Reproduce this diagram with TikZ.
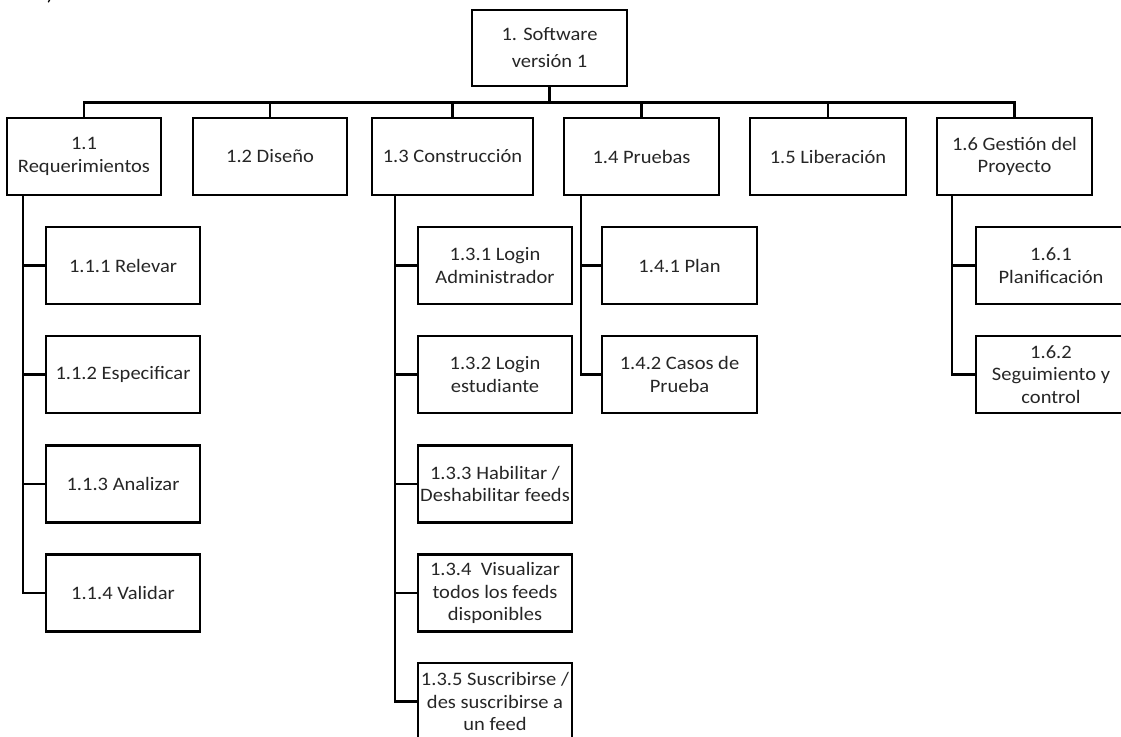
\documentclass[tikz,border=0pt]{standalone}
\usepackage{fontspec}
\setmainfont{Carlito}[FakeStretch=1.08]
\begin{document}
\begin{tikzpicture}[x=1pt,y=-1pt,
  wbs/.style={draw=black, line width=2.6pt, inner sep=0pt, outer sep=0pt,
    minimum width=154pt, minimum height=77pt, align=center,
    font=\fontsize{19}{22.5}\selectfont, text=black!85},
  conn/.style={draw=black, line width=2.6pt}]
\useasboundingbox (0,0) rectangle (1121,736);
\clip (0,0) rectangle (1121,736);
% stray glyph at the top edge
\node[anchor=base, inner sep=0pt, font=\fontsize{19}{22}\selectfont] (mark) at (50,0.5) {)};
% root
\node[wbs, minimum width=155pt, minimum height=76pt, font=\fontsize{19}{27}\selectfont] (root) at (549.5,48) {1. Software\\versión 1};
% level 1
\node[wbs] (n11) at (84,156.5) {1.1\\Requerimientos};
\node[wbs] (n12) at (270,156.5) {1.2 Diseño};
\node[wbs, minimum width=161pt] (n13) at (452.5,156.5) {1.3 Construcción};
\node[wbs, minimum width=155pt] (n14) at (641.5,156.5) {1.4 Pruebas};
\node[wbs, minimum width=156pt] (n15) at (828,156.5) {1.5 Liberación};
\node[wbs, minimum width=155pt] (n16) at (1014.5,156.5) {1.6 Gestión del\\Proyecto};
% level 2 : 1.1
\node[wbs] (n111) at (123,265.5) {1.1.1 Relevar};
\node[wbs] (n112) at (123,374.5) {1.1.2 Especificar};
\node[wbs] (n113) at (123,484) {1.1.3 Analizar};
\node[wbs] (n114) at (123,593) {1.1.4 Validar};
% level 2 : 1.3
\node[wbs] (n131) at (495,265.5) {1.3.1 Login\\Administrador};
\node[wbs] (n132) at (495,374.5) {1.3.2 Login\\estudiante};
\node[wbs] (n133) at (495,484) {1.3.3 Habilitar /\\Deshabilitar feeds};
\node[wbs] (n134) at (495,593) {1.3.4\ \ Visualizar\\todos los feeds\\disponibles};
\node[wbs] (n135) at (495,701.5) {1.3.5 Suscribirse /\\des suscribirse a\\un feed};
% level 2 : 1.4
\node[wbs, minimum width=155pt] (n141) at (679.5,265.5) {1.4.1 Plan};
\node[wbs, minimum width=155pt] (n142) at (679.5,374.5) {1.4.2 Casos de\\Prueba};
% level 2 : 1.6
\node[wbs, minimum width=150pt] (n161) at (1051,265.5) {1.6.1\\Planificación};
\node[wbs, minimum width=150pt] (n162) at (1051,374.5) {1.6.2\\Seguimiento y\\control};
% bus
\coordinate (bus) at (549.5,102.5);
\draw[conn] (root.south) -- (root.south |- bus);
\draw[conn] (n11.north) |- (bus) -| (n16.north);
\draw[conn] (n12.north) -- (n12.north |- bus);
\draw[conn] (n13.north) -- (n13.north |- bus);
\draw[conn] (n14.north) -- (n14.north |- bus);
\draw[conn] (n15.north) -- (n15.north |- bus);
% trunks
\coordinate (t11) at (23,195);
\coordinate (t13) at (395,195);
\coordinate (t14) at (581,195);
\coordinate (t16) at (952,195);
\draw[conn] (t11) |- (n114.west);
\draw[conn] (n111.west) -- (n111.west -| t11);
\draw[conn] (n112.west) -- (n112.west -| t11);
\draw[conn] (n113.west) -- (n113.west -| t11);
\draw[conn] (t13) |- (n135.west);
\draw[conn] (n131.west) -- (n131.west -| t13);
\draw[conn] (n132.west) -- (n132.west -| t13);
\draw[conn] (n133.west) -- (n133.west -| t13);
\draw[conn] (n134.west) -- (n134.west -| t13);
\draw[conn] (t14) |- (n142.west);
\draw[conn] (n141.west) -- (n141.west -| t14);
\draw[conn] (t16) |- (n162.west);
\draw[conn] (n161.west) -- (n161.west -| t16);
\end{tikzpicture}
\end{document}
